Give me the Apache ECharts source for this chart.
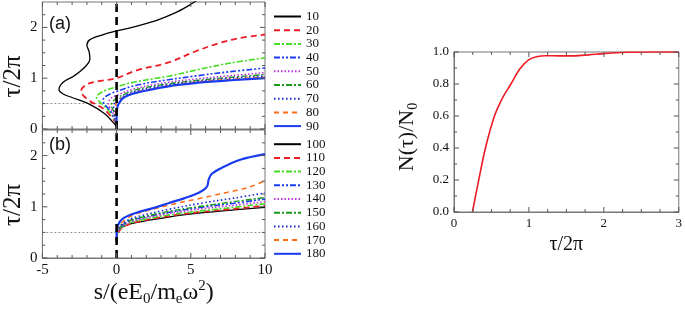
<!DOCTYPE html>
<html><head><meta charset="utf-8">
<script src="https://cdn.jsdelivr.net/npm/echarts@6/dist/echarts.min.js"></script>
<style>html,body{margin:0;padding:0;background:#fff}#c{width:685px;height:311px}</style>
</head><body><div id="c"></div>
<script>
// ---- data: panel (a), pairs [s, tau/2pi] ----
const a10 = [[0,0.05],[-0.3,0.15],[-0.8,0.3],[-1.9,0.5],[-3.0,0.62],[-3.6,0.69],[-3.88,0.78],[-3.6,0.92],[-2.9,1.04],[-2.2,1.2],[-1.8,1.38],[-1.85,1.52],[-2.0,1.65],[-1.8,1.76],[-0.9,1.86],[0,1.93],[1.3,2.02],[2.8,2.15],[3.9,2.28],[4.8,2.42],[5.5,2.55]];
const a20 = [[0,0.1],[-0.8,0.38],[-1.9,0.57],[-2.4,0.74],[-2.0,0.88],[-1.0,0.95],[0,1.0],[1.3,1.15],[3.5,1.31],[5.25,1.52],[6.8,1.68],[8.3,1.79],[10,1.86]];
const a30 = [[0,0.1],[-0.5,0.35],[-1.1,0.52],[-1.35,0.63],[-0.9,0.74],[0,0.83],[1.3,0.93],[3.5,1.04],[5.5,1.17],[7.7,1.3],[10,1.4]];
const a40 = [[0,0.1],[-0.4,0.35],[-0.85,0.5],[-0.9,0.58],[-0.5,0.68],[0,0.74],[1.3,0.86],[3.5,0.97],[5.5,1.05],[7.7,1.13],[10,1.2]];
const a50 = [[0,0.1],[-0.3,0.35],[-0.55,0.5],[-0.4,0.6],[0,0.66],[1.3,0.8],[3.5,0.92],[5.5,0.99],[7.7,1.05],[10,1.11]];
const a60 = [[0,0.1],[-0.2,0.35],[-0.35,0.47],[-0.2,0.56],[0,0.61],[1.3,0.77],[3.5,0.89],[5.5,0.96],[7.7,1.02],[10,1.07]];
const a70 = [[0,0.1],[-0.15,0.35],[-0.2,0.45],[0,0.56],[1.3,0.74],[3.5,0.87],[5.5,0.94],[7.7,1.0],[10,1.04]];
const a80 = [[0,0.1],[-0.08,0.35],[-0.05,0.45],[0,0.52],[0.3,0.6],[1.3,0.72],[3.5,0.85],[5.5,0.93],[7.7,0.98],[10,1.02]];
const a90 = [[0,0.08],[0,0.3],[0.05,0.42],[0.11,0.48],[0.44,0.61],[1.29,0.71],[3.49,0.84],[5.5,0.91],[7.7,0.96],[10,1.0]];
// ---- data: panel (b) ----
const b100 = [[0,0.3],[0,0.42],[0.1,0.52],[0.5,0.62],[1.3,0.69],[3.5,0.8],[5.7,0.88],[7.9,0.94],[10,0.99]];
const b110 = [[0,0.3],[0.05,0.45],[0.2,0.54],[0.6,0.63],[1.3,0.7],[3.5,0.82],[5.7,0.9],[7.9,0.96],[10,1.02]];
const b120 = [[0,0.32],[0.05,0.47],[0.2,0.56],[0.6,0.65],[1.3,0.72],[3.5,0.84],[5.7,0.92],[7.9,0.99],[10,1.06]];
const b130 = [[0,0.33],[0.05,0.5],[0.25,0.6],[0.7,0.7],[1.3,0.76],[3.5,0.89],[5.7,0.99],[7.9,1.07],[10,1.15]];
const b140 = [[0,0.33],[0.05,0.5],[0.25,0.59],[0.7,0.68],[1.3,0.74],[3.5,0.87],[5.7,0.96],[7.9,1.03],[10,1.1]];
const b150 = [[0,0.34],[0.05,0.52],[0.25,0.61],[0.7,0.71],[1.3,0.77],[3.5,0.91],[5.7,1.01],[7.9,1.1],[10,1.18]];
const b160 = [[0,0.35],[0.05,0.53],[0.25,0.63],[0.7,0.73],[1.3,0.8],[3.5,0.95],[5.7,1.07],[7.9,1.17],[10,1.27]];
const b170 = [[0,0.35],[0.05,0.55],[0.25,0.66],[0.7,0.77],[1.3,0.86],[3.5,1.03],[5.7,1.17],[7.9,1.31],[9,1.39],[10,1.51]];
const b180 = [[0,0.35],[0,0.5],[0.09,0.64],[0.42,0.77],[1.29,0.88],[2.4,0.97],[3.49,1.07],[4.59,1.17],[5.5,1.27],[5.95,1.35],[6.13,1.42],[6.2,1.53],[6.4,1.64],[7.0,1.75],[8.33,1.92],[10,2.03]];
const namesA = ['10','20','30','40','50','60','70','80','90'];
const namesB = ['100','110','120','130','140','150','160','170','180'];
// reference lines
const zeroLine = [[0,0],[0,2.5]];
const halfLine = [[-5,0.5],[10,0.5]];
// ---- data: right panel ----
const tauN = [0.246,0.33,0.42,0.54,0.65,0.76,0.88,1.0,1.1,1.22,1.4,1.6,1.8,2.0,2.3,2.6,3.0];
const Nratio = [0,0.2,0.4,0.6,0.715,0.8,0.895,0.952,0.97,0.977,0.976,0.976,0.982,0.99,0.998,1.0,1.0];
// ---- tick positions ----
const sMajor = [-5,0,5,10];
const sMinor = [-4,-3,-2,-1,1,2,3,4,6,7,8,9];
const tMajor = [0,1,2];
const tMinor = [0.25,0.5,0.75,1.25,1.5,1.75,2.25];
const rxMajor = [0,1,2,3];
const rxMinor = [0.25,0.5,0.75,1.25,1.5,1.75,2.25,2.5,2.75];
const ryMajor = [0,0.2,0.4,0.6,0.8,1.0];
const ryMinor = [0.1,0.3,0.5,0.7,0.9];

const styles = [
  {color:'#000000', width:1.3, type:'solid'},
  {color:'#ee1c25', width:1.8, type:[6,4]},
  {color:'#44dd22', width:1.6, type:[6,2,2,2]},
  {color:'#1a3cf0', width:1.6, type:[6,2,2,2,2,2]},
  {color:'#c030e0', width:1.6, type:[1.5,2]},
  {color:'#1a9a1a', width:1.4, type:[6,2,2,2]},
  {color:'#1122cc', width:1.6, type:[1.5,2.5]},
  {color:'#ff6a13', width:1.5, type:[5,4]},
  {color:'#1a3cf0', width:2.2, type:'solid'}
];
const dataA = [a10,a20,a30,a40,a50,a60,a70,a80,a90];
const dataB = [b100,b110,b120,b130,b140,b150,b160,b170,b180];

const serif = 'Liberation Serif';
function axBase(gi, min, max, interval, labels, name, fs, fmt){
  const o = {type:'value', gridIndex:gi, min:min, max:max, interval:interval,
    axisLine:{show:true, onZero:false, lineStyle:{color:'#777'}},
    axisTick:{show:false}, minorTick:{show:false},
    splitLine:{show:false},
    axisLabel:{show:labels, color:'#111', fontFamily:serif, fontSize:fs||15, margin:5}
  };
  if (fmt) o.axisLabel.formatter = fmt;
  if (name) { o.name = name.text; o.nameLocation = 'middle'; o.nameGap = name.gap; o.nameTextStyle = name.style; }
  return o;
}
const intFmt = v => (Math.abs(v - Math.round(v)) < 1e-6 ? String(Math.round(v)) : '');
const tauName = {text:'τ/2π', gap:11, style:{fontFamily:serif, fontSize:25, color:'#111', padding:[0,22,0,0]}};
const sName = {text:'{m|s/(eE}{sub|0}{m|/m}{sub|e}{m|ω}{sup|2}{m|)}', gap:20,
  style:{rich:{
    m:{fontFamily:serif, fontSize:24, color:'#111'},
    sub:{fontFamily:serif, fontSize:15, color:'#111', padding:[13,0,0,0]},
    sup:{fontFamily:serif, fontSize:15, color:'#111', padding:[0,0,13,0]}
  }}};
const nName = {text:'{m|N(τ)/N}{sub|0}', gap:34,
  style:{padding:[0,10,0,0], rich:{
    m:{fontFamily:serif, fontSize:22, color:'#111'},
    sub:{fontFamily:serif, fontSize:14, color:'#111', padding:[12,0,0,0]}
  }}};
const tauName2 = {text:'τ/2π', gap:17, style:{fontFamily:serif, fontSize:20, color:'#111'}};

const series = [];
function addCurves(names, datas, gi){
  names.forEach((n,i)=>{
    series.push({name:n, type:'line', xAxisIndex:gi, yAxisIndex:gi, data:datas[i],
      symbol:'none', showSymbol:false, smooth:0.35, clip:true, z:3,
      lineStyle:{color:styles[i].color, width:styles[i].width, type:styles[i].type},
      itemStyle:{color:styles[i].color}, emphasis:{disabled:true}});
  });
  series.push({name:'zero'+gi, type:'line', xAxisIndex:gi, yAxisIndex:gi, data:zeroLine,
    symbol:'none', lineStyle:{color:'#000', width:2.6, type:[8,5]}, z:4, emphasis:{disabled:true}});
  series.push({name:'half'+gi, type:'line', xAxisIndex:gi, yAxisIndex:gi, data:halfLine,
    symbol:'none', lineStyle:{color:'#777', width:0.8, type:[2,2]}, z:2, emphasis:{disabled:true}});
}
addCurves(namesA, dataA, 0);
addCurves(namesB, dataB, 1);
series.push({name:'N', type:'line', xAxisIndex:2, yAxisIndex:2, data:tauN.map((t,i)=>[t,Nratio[i]]),
  symbol:'none', smooth:0.3, lineStyle:{color:'#ee1c25', width:1.6}, emphasis:{disabled:true}});

// inside tick marks on all four sides, placed through the axes' own scales
function tickSeries(gi, xr, yr, xMaj, xMin, yMaj, yMin){
  const d = [];
  xMaj.forEach(v=>d.push([v, 0, 5])); xMin.forEach(v=>d.push([v, 0, 3]));
  yMaj.forEach(v=>d.push([v, 1, 5])); yMin.forEach(v=>d.push([v, 1, 3]));
  return {name:'ticks'+gi, type:'custom', coordinateSystem:'cartesian2d', xAxisIndex:gi, yAxisIndex:gi,
    silent:true, z:6, data:d, encode:{x:0, y:1},
    renderItem:function(params, api){
      const v = api.value(0), o = api.value(1), L = api.value(2);
      const st = {stroke:'#555', lineWidth:1};
      if (o === 0) {
        const p1 = api.coord([v, yr[0]]), p2 = api.coord([v, yr[1]]);
        return {type:'group', children:[
          {type:'line', shape:{x1:p1[0], y1:p1[1], x2:p1[0], y2:p1[1]-L}, style:st},
          {type:'line', shape:{x1:p2[0], y1:p2[1], x2:p2[0], y2:p2[1]+L}, style:st}]};
      }
      const q1 = api.coord([xr[0], v]), q2 = api.coord([xr[1], v]);
      return {type:'group', children:[
        {type:'line', shape:{x1:q1[0], y1:q1[1], x2:q1[0]+L, y2:q1[1]}, style:st},
        {type:'line', shape:{x1:q2[0], y1:q2[1], x2:q2[0]-L, y2:q2[1]}, style:st}]};
    }};
}
series.push(tickSeries(0, [-5,10], [0,2.5], sMajor, sMinor, tMajor, tMinor));
series.push(tickSeries(1, [-5,10], [0,2.5], sMajor, sMinor, tMajor, tMinor));
series.push(tickSeries(2, [0,3], [0,1], rxMajor, rxMinor, ryMajor, ryMinor));

const legendBase = {orient:'vertical', left:273, itemWidth:27, itemHeight:12, itemGap:0.7,
  itemStyle:{opacity:0, borderWidth:0},
  textStyle:{fontFamily:serif, fontSize:13, color:'#111', lineHeight:12}, selectedMode:false, padding:0};

const gridFrame = {show:true, borderColor:'#777', borderWidth:1, backgroundColor:'transparent'};
const option = {
  animation:false,
  grid:[
    Object.assign({left:38, top:2, width:227, height:127}, gridFrame),
    Object.assign({left:38, top:130, width:227, height:128}, gridFrame),
    Object.assign({left:454, top:52, width:228, height:160}, gridFrame)
  ],
  xAxis:[
    axBase(0,-5,10,5,false),
    axBase(1,-5,10,5,true,sName),
    axBase(2,0,3,1,true,tauName2,13)
  ],
  yAxis:[
    axBase(0,0,2.5,1,true,tauName,15,intFmt),
    axBase(1,0,2.5,1,true,tauName,15,intFmt),
    axBase(2,0,1,0.2,true,nName,13,v=>v.toFixed(1))
  ],
  legend:[
    Object.assign({}, legendBase, {top:10, data:namesA}),
    Object.assign({}, legendBase, {top:137.7, data:namesB})
  ],
  graphic:[
    {type:'text', left:49, top:15, style:{text:'(a)', fontFamily:'Liberation Sans', fontSize:18, fill:'#111'}},
    {type:'text', left:49, top:136, style:{text:'(b)', fontFamily:'Liberation Sans', fontSize:18, fill:'#111'}}
  ],
  series
};
const chart = echarts.init(document.getElementById('c'), null, {renderer:'canvas'});
chart.setOption(option);
</script>
</body></html>
